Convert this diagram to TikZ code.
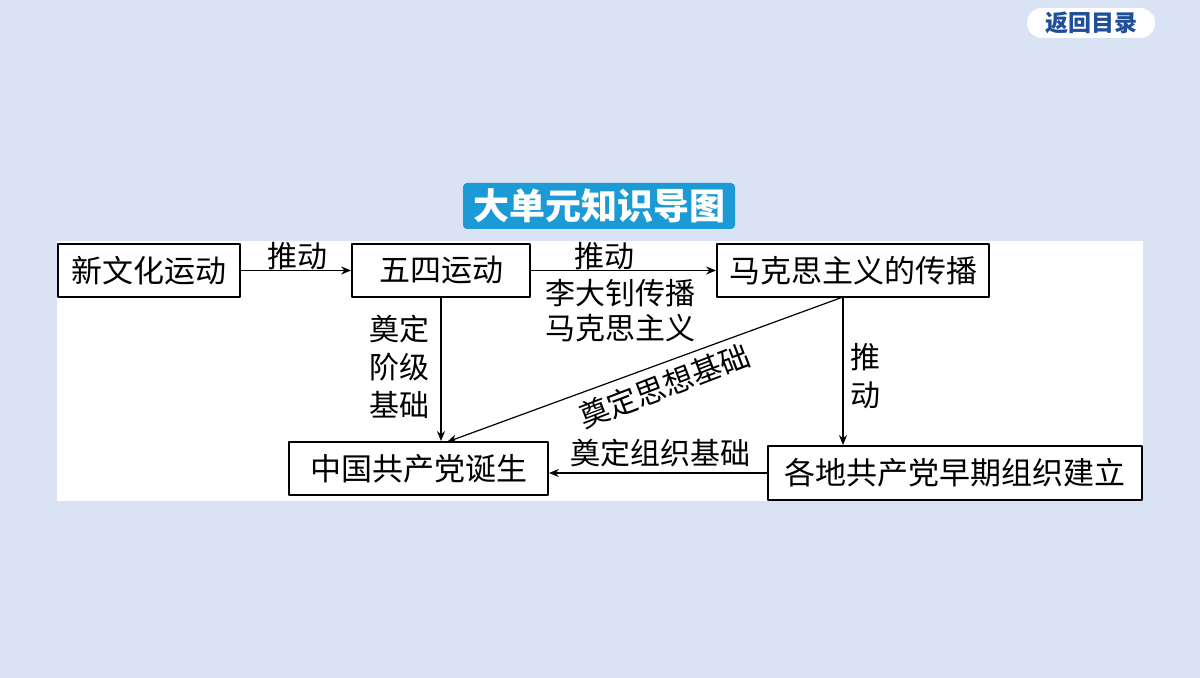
\documentclass[tikz,border=0pt]{standalone}
\usepackage{fontspec}
\setmainfont{Noto Sans CJK SC}
\usepackage{xcolor}
\usetikzlibrary{arrows.meta}

\definecolor{bgblue}{RGB}{218,227,243}
\definecolor{titleblue}{RGB}{28,154,214}
\definecolor{btnblue}{RGB}{31,78,155}

\tikzset{
  kbox/.style={draw, line width=0.9pt, inner sep=0pt, minimum height=26.5pt,
    font=\fontsize{15.5pt}{18pt}\selectfont},
  lbl/.style={inner sep=0pt, align=center, font=\fontsize{15pt}{18.5pt}\selectfont},
  arr/.style={-{Stealth[length=5pt,width=4pt]}, line width=0.6pt},
}

\begin{document}
\begin{tikzpicture}[x=0.5pt,y=-0.5pt,line cap=round,line join=round]
			\useasboundingbox (0,0) rectangle (1200,678);
			\fill [bgblue] (0,0) rectangle (1200,678);
			\fill [white] (57,241) rectangle (1143,501);
			% header
			\node [fill=white, rounded corners=7.5pt, minimum width=64pt, minimum height=15pt, inner sep=0pt, text=btnblue, font=\fontsize{11.5pt}{12pt}\selectfont\bfseries] (back) at (1091,23) {返回目录};
			\node [fill=titleblue, rounded corners=2pt, minimum width=136pt, minimum height=23pt, inner sep=0pt, text=white, font=\fontsize{18pt}{20pt}\selectfont\bfseries] (title) at (599,206) {大单元知识导图};
			% boxes
			\node [kbox, minimum width=91pt] (xinwenhua) at (149,270.5) {新文化运动};
			\node [kbox, minimum width=89pt] (wusi) at (441,270.5) {五四运动};
			\node [kbox, minimum width=136pt] (makesi) at (853,270.5) {马克思主义的传播};
			\node [kbox, minimum width=129.5pt] (zhongguo) at (418.5,468.5) {中国共产党诞生};
			\node [kbox, minimum width=187pt, minimum height=27pt] (gedi) at (955,473) {各地共产党早期组织建立};
			\coordinate (mkfoot) at (843,297);
			\coordinate (zgtop) at (447,442);
			% connectors
			\draw [arr] (xinwenhua) -- (wusi);
			\draw [arr] (wusi) -- (makesi);
			\draw [arr] (wusi.south) -- (wusi.south |- zhongguo.north);
			\draw [arr] (mkfoot) -- (zgtop);
			\draw [arr] (mkfoot) -- (mkfoot |- gedi.north);
			\draw [arr] (gedi.west) -- (zhongguo.east |- gedi.west);
			% labels
			\node [lbl] (l1) at (297,256) {推动};
			\node [lbl] (l2) at (604,256) {推动};
			\node [lbl, font=\fontsize{15pt}{17.5pt}\selectfont] (l3) at (620,311) {李大钊传播\\马克思主义};
			\node [lbl, font=\fontsize{15pt}{19pt}\selectfont] (l4) at (399,367) {奠定\\阶级\\基础};
			\node [lbl, rotate=21] (l5) at (664,386) {奠定思想基础};
			\node [lbl, font=\fontsize{15pt}{19pt}\selectfont] (l6) at (865,376) {推\\动};
			\node [lbl] (l7) at (660,453) {奠定组织基础};
			\end{tikzpicture}
\end{document}
